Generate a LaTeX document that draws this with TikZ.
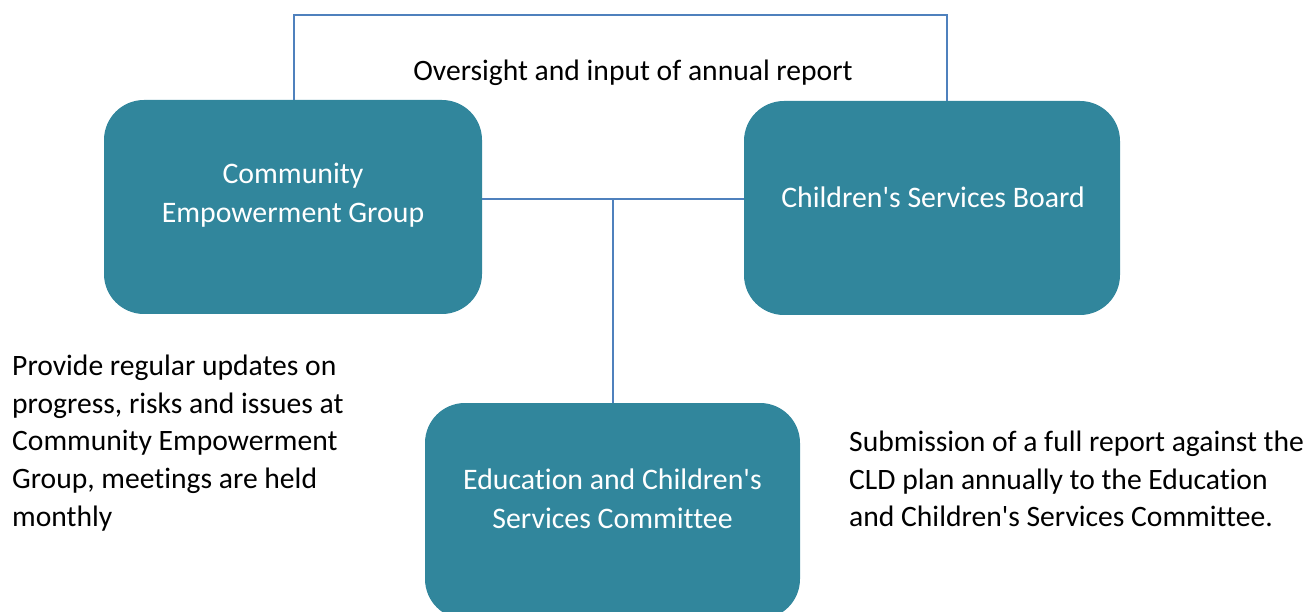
\documentclass[tikz,border=0pt]{standalone}
\usepackage{fontspec}
\setmainfont[Ligatures={NoCommon}]{Carlito}
\newfontfamily\carl[Ligatures={NoCommon}]{Carlito}
\definecolor{teal1}{HTML}{31869C}
\definecolor{linec}{HTML}{4F81BD}
\tikzset{
  box/.style={fill=teal1, draw=none, rounded corners=40pt, inner sep=0pt},
  boxtext/.style={text=white, align=center, font=\carl\fontsize{29.8}{39}\selectfont, inner sep=0pt},
  plain/.style={text=black, align=left, font=\carl\fontsize{29.6}{37.6}\selectfont, inner sep=0pt, anchor=north west},
  conn/.style={draw=linec, line width=1.6pt}
}
\begin{document}
\begin{tikzpicture}[x=1pt,y=-1pt]
\useasboundingbox (0,0) rectangle (1307,612);
\clip (0,0) rectangle (1307,612);
\node[box, minimum width=378pt, minimum height=214pt] (ceg) at (293,207) {};
\node[box, minimum width=376pt, minimum height=214pt] (csb) at (932,208) {};
\node[box, minimum width=375pt, minimum height=216pt] (ecsc) at (612.5,511) {};
\node[boxtext] (tceg) at (293,195) {Community\\Empowerment Group};
\node[boxtext] (tcsb) at (933,197) {Children's Services Board};
\node[boxtext] (tecsc) at (612.5,499) {Education and Children's\\Services Committee};
\node[text=black, font=\carl\fontsize{29.6}{37.6}\selectfont, inner sep=0pt] (over) at (633,73) {Oversight and input of annual report};
\node[plain] (left) at (12,355) {Provide regular updates on\\progress, risks and issues at\\Community Empowerment\\Group, meetings are held\\monthly};
\node[plain] (right) at (849,431) {Submission of a full report against the\\CLD plan annually to the Education\\and Children's Services Committee.};
\coordinate (topl) at (294,15);
\coordinate (topr) at (947,15);
\coordinate (midl) at (482,199);
\coordinate (midr) at (744,199);
\coordinate (midc) at (613,199);
\draw[conn] (ceg.north -| topl) -- (topl) -- (topr) -- (csb.north -| topr);
\draw[conn] (ceg.east |- midl) -- (csb.west |- midr);
\draw[conn] (midc) -- (ecsc.north -| midc);
\end{tikzpicture}
\end{document}
